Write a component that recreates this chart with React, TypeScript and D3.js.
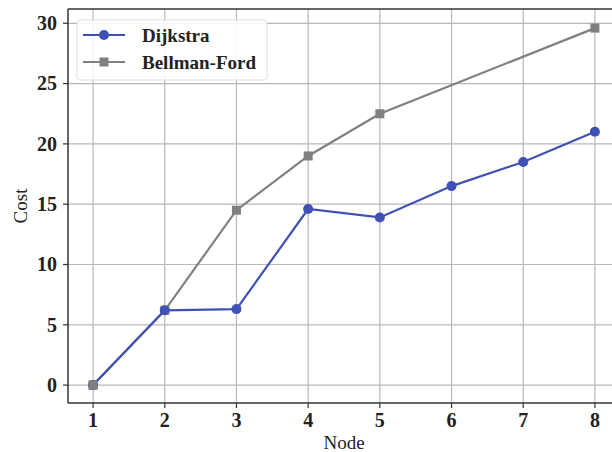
import React from 'react';
import * as d3 from 'd3';

const WIDTH = 612;
const HEIGHT = 452;
const MARGIN = { left: 68, top: 9, right: 620, bottom: 403 };

const nodes = [1, 2, 3, 4, 5, 6, 7, 8];
const dijkstra = [0, 6.2, 6.3, 14.6, 13.9, 16.5, 18.5, 21.0];
const bellmanNodes = [1, 2, 3, 4, 5, 8];
const bellmanFord = [0, 6.2, 14.5, 19.0, 22.5, 29.6];
const yTicks = [0, 5, 10, 15, 20, 25, 30];

const BLUE = '#3f51b5';
const GRAY = '#808080';
const FONT = '"Liberation Serif", "Times New Roman", serif';

const x = d3.scaleLinear().domain([0.65, 8.35]).range([MARGIN.left, MARGIN.right]);
const y = d3.scaleLinear().domain([-1.485, 31.185]).range([MARGIN.bottom, MARGIN.top]);

const line = d3.line<[number, number]>().x(d => x(d[0])).y(d => y(d[1]));

export default function App() {
  const dPts: [number, number][] = nodes.map((n, i) => [n, dijkstra[i]]);
  const bPts: [number, number][] = bellmanNodes.map((n, i) => [n, bellmanFord[i]]);

  return (
    <svg
      width={WIDTH}
      height={HEIGHT}
      style={{ position: 'absolute', left: 0, top: 0, background: '#fff' }}
      fontFamily={FONT}
    >
      {/* grid */}
      <g stroke="#b8b8b8" strokeWidth={1.2}>
        {nodes.map(n => (
          <line key={'gx' + n} x1={x(n)} x2={x(n)} y1={MARGIN.top} y2={MARGIN.bottom} />
        ))}
        {yTicks.map(t => (
          <line key={'gy' + t} x1={MARGIN.left} x2={MARGIN.right} y1={y(t)} y2={y(t)} />
        ))}
      </g>

      {/* series */}
      <path d={line(bPts) ?? ''} fill="none" stroke={GRAY} strokeWidth={2.2} />
      {bPts.map(([n, v]) => (
        <rect key={'b' + n} x={x(n) - 4.5} y={y(v) - 4.5} width={9} height={9} fill={GRAY} />
      ))}
      <path d={line(dPts) ?? ''} fill="none" stroke={BLUE} strokeWidth={2.2} />
      {dPts.map(([n, v]) => (
        <circle key={'d' + n} cx={x(n)} cy={y(v)} r={5} fill={BLUE} />
      ))}
      {/* Bellman-Ford marker at node 1 sits on top, as in the reference */}
      <rect x={x(1) - 4.5} y={y(0) - 4.5} width={9} height={9} fill={GRAY} />

      {/* spines */}
      <g stroke="#333" strokeWidth={1.5} fill="none">
        <line x1={MARGIN.left} x2={MARGIN.left} y1={MARGIN.top} y2={MARGIN.bottom} />
        <line x1={MARGIN.left} x2={MARGIN.right} y1={MARGIN.bottom} y2={MARGIN.bottom} />
        <line x1={MARGIN.left} x2={MARGIN.right} y1={MARGIN.top} y2={MARGIN.top} />
      </g>

      {/* ticks */}
      <g fontSize={20} fontWeight="bold" fill="#222">
        {nodes.map(n => (
          <g key={'tx' + n}>
            <line x1={x(n)} x2={x(n)} y1={MARGIN.bottom} y2={MARGIN.bottom + 5} stroke="#333" strokeWidth={1.2} />
            <text x={x(n)} y={MARGIN.bottom + 24} textAnchor="middle">{n}</text>
          </g>
        ))}
        {yTicks.map(t => (
          <g key={'ty' + t}>
            <line x1={MARGIN.left - 5} x2={MARGIN.left} y1={y(t)} y2={y(t)} stroke="#333" strokeWidth={1.2} />
            <text x={MARGIN.left - 11} y={y(t)} dy="0.34em" textAnchor="end">{t}</text>
          </g>
        ))}
      </g>

      {/* axis labels */}
      <text x={(MARGIN.left + MARGIN.right) / 2} y={449} textAnchor="middle" fontSize={19} fill="#222">Node</text>
      <text transform={`translate(27,${(MARGIN.top + MARGIN.bottom) / 2}) rotate(-90)`} textAnchor="middle" fontSize={19} fill="#222">Cost</text>

      {/* legend */}
      <g>
        <rect x={77} y={20} width={190} height={60} rx={3} fill="#fff" fillOpacity={0.85} stroke="#ddd" />
        <line x1={83} x2={125} y1={35} y2={35} stroke={BLUE} strokeWidth={2.2} />
        <circle cx={104} cy={35} r={5} fill={BLUE} />
        <text x={142} y={35} dy="0.35em" fontSize={19} fontWeight="bold" fill="#222">Dijkstra</text>
        <line x1={83} x2={125} y1={62} y2={62} stroke={GRAY} strokeWidth={2.2} />
        <rect x={99.5} y={57.5} width={9} height={9} fill={GRAY} />
        <text x={142} y={62} dy="0.35em" fontSize={19} fontWeight="bold" fill="#222">Bellman-Ford</text>
      </g>
    </svg>
  );
}
